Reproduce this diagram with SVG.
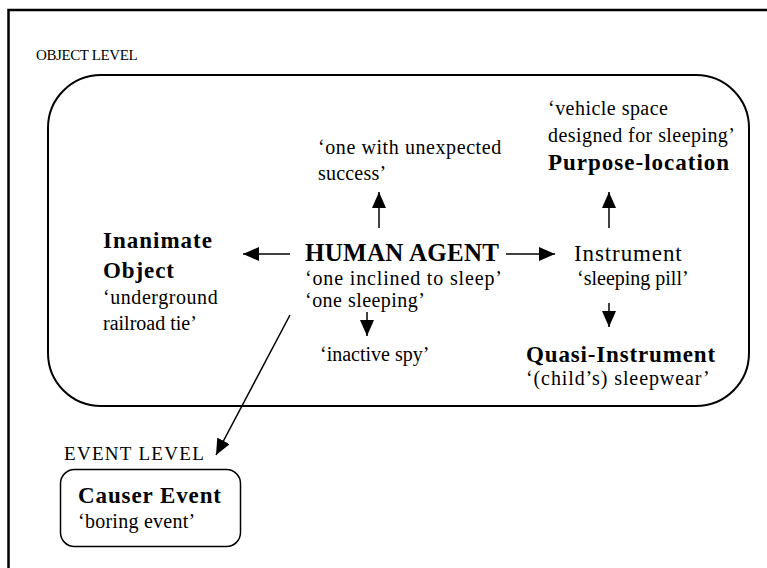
<svg xmlns="http://www.w3.org/2000/svg" width="767" height="568" viewBox="0 0 767 568" font-family="Liberation Serif, Times New Roman, serif">
<defs>
<style>
.r{font-family:'Liberation Serif','Times New Roman',serif;font-size:20px}
.b{font-family:'Liberation Serif','Times New Roman',serif;font-size:23px;font-weight:bold}
.c{stroke:#000;stroke-width:1.5;fill:none}
</style>
<marker id="ah" markerUnits="userSpaceOnUse" markerWidth="18" markerHeight="14" refX="16" refY="7" orient="auto">
<path d="M0,0 L16,7 L0,14 z" fill="#000"/>
</marker>
</defs>
<rect width="767" height="568" fill="#fff"/>
<path d="M8.5 568 V10 H767" fill="none" stroke="#000" stroke-width="2.5"/>
<text x="36" y="60" font-size="15" letter-spacing="-0.4">OBJECT LEVEL</text>
<rect id="object-level" x="48" y="75" width="701" height="331" rx="53" ry="53" fill="none" stroke="#000" stroke-width="2"/>
<text x="64" y="460" font-size="19" letter-spacing="1.3">EVENT LEVEL</text>

<g id="human-agent">
<text class="b" x="305" y="261" style="font-size:25px" letter-spacing="0.3">HUMAN AGENT</text>
<text class="r" x="305" y="285" letter-spacing="0.85">&#8216;one inclined to sleep&#8217;</text>
<text class="r" x="305" y="307" letter-spacing="0.47">&#8216;one sleeping&#8217;</text>
</g>
<g id="unexpected-success">
<text class="r" x="318" y="154" letter-spacing="0.58">&#8216;one with unexpected</text>
<text class="r" x="318" y="180" letter-spacing="0.2">success&#8217;</text>
</g>
<g id="purpose-location">
<text class="r" x="548" y="115" letter-spacing="0.47">&#8216;vehicle space</text>
<text class="r" x="548" y="142" letter-spacing="0.44">designed for sleeping&#8217;</text>
<text class="b" x="548" y="170" letter-spacing="1.0">Purpose-location</text>
</g>
<g id="inanimate-object">
<text class="b" x="103" y="248" letter-spacing="1.0">Inanimate</text>
<text class="b" x="103" y="278" letter-spacing="0.9">Object</text>
<text class="r" x="103" y="304" letter-spacing="0.56">&#8216;underground</text>
<text class="r" x="103" y="330">railroad tie&#8217;</text>
</g>
<g id="instrument">
<text class="r" x="574" y="261" style="font-size:23px" letter-spacing="0.9">Instrument</text>
<text class="r" x="577" y="285">&#8216;sleeping pill&#8217;</text>
</g>
<g id="quasi-instrument">
<text class="b" x="526" y="362" letter-spacing="0.85">Quasi-Instrument</text>
<text class="r" x="526" y="385" letter-spacing="0.9">&#8216;(child&#8217;s) sleepwear&#8217;</text>
</g>
<g id="inactive-spy">
<text class="r" x="320" y="361">&#8216;inactive spy&#8217;</text>
</g>
<g id="causer-event">
<rect x="60.5" y="469.5" width="180" height="77" rx="14" ry="14" fill="none" stroke="#000" stroke-width="1.5"/>
<text class="b" x="78" y="503" letter-spacing="0.9">Causer Event</text>
<text class="r" x="78" y="528" letter-spacing="0.25">&#8216;boring event&#8217;</text>
</g>

<g id="connectors">
<line class="c" x1="379" y1="228" x2="379" y2="192" marker-end="url(#ah)"/>
<line class="c" x1="609" y1="228" x2="609" y2="192" marker-end="url(#ah)"/>
<line class="c" x1="290" y1="254" x2="243" y2="254" marker-end="url(#ah)"/>
<line class="c" x1="506" y1="254" x2="555" y2="254" marker-end="url(#ah)"/>
<line class="c" x1="609" y1="303" x2="609" y2="327" marker-end="url(#ah)"/>
<line class="c" x1="367" y1="312" x2="367" y2="336" marker-end="url(#ah)"/>
<line class="c" x1="290" y1="315" x2="216" y2="455" marker-end="url(#ah)"/>
</g>
</svg>
